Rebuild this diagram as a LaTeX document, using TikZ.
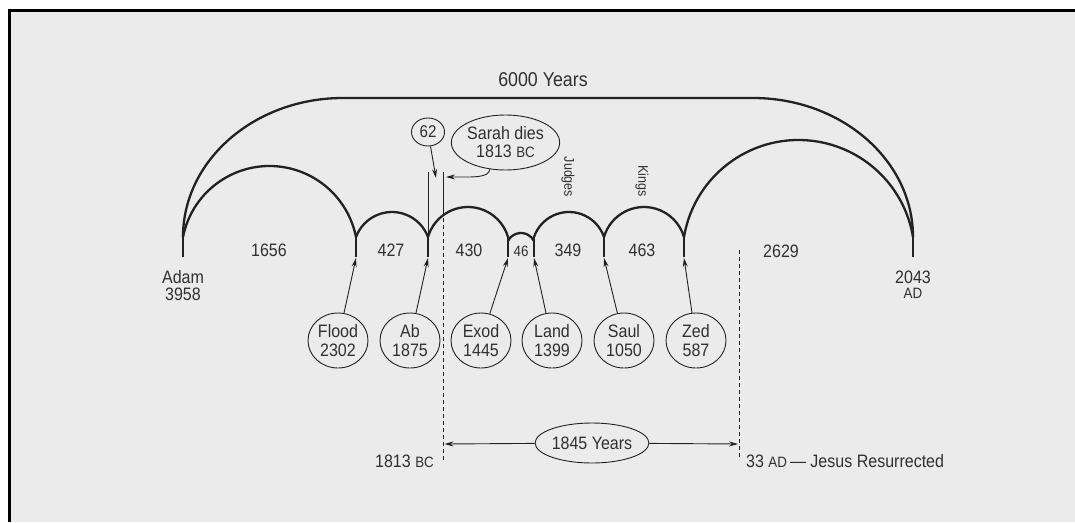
\documentclass[tikz,border=0pt]{standalone}
\usepackage{fontspec}
\setmainfont{Liberation Sans}[FakeStretch=0.89]
\usetikzlibrary{arrows.meta,shapes.geometric}
\definecolor{bg}{HTML}{EBEBEB}
\definecolor{ink}{HTML}{222222}
\definecolor{txt}{HTML}{303030}
\newcommand{\smcp}{\fontsize{15}{15}\selectfont}
\begin{document}
\begin{tikzpicture}[x=1pt,y=-1pt,
  big/.style={line width=2.3pt, draw=ink},
  tick/.style={line width=2.8pt, draw=ink},
  thin/.style={line width=0.9pt, draw=ink},
  dsh/.style={line width=0.9pt, draw=ink, dash pattern=on 4pt off 3pt},
  arr/.style={thin, -{Stealth[length=9pt,width=5pt]}},
  lbl/.style={font=\fontsize{18}{19}\selectfont, text=txt, inner sep=0pt},
  oval/.style={ellipse, draw=ink, line width=0.9pt, inner sep=0pt, align=center,
    font=\fontsize{18}{19}\selectfont, text=txt, minimum width=60pt, minimum height=55pt}]
\useasboundingbox (0,0) rectangle (1075,522);
\fill[white] (0,0) rectangle (1075,522);
\fill[bg] (8,9) rectangle (1075,522);
\draw[line width=3pt, black] (9.5,522) -- (9.5,10.5) -- (1075,10.5);

% junction coordinates
\coordinate (j0) at (183,237);
\coordinate (j1) at (356,237);
\coordinate (j2) at (428,237);
\coordinate (j3) at (508,237);
\coordinate (j3b) at (508,241);
\coordinate (j4) at (534,237);
\coordinate (j5) at (604,237);
\coordinate (j6) at (684,237);
\coordinate (j7) at (913,237);

% 6000 years arc
\draw[big] (j0) arc[start angle=180,end angle=270,x radius=160,y radius=139]
  -- (753,98) arc[start angle=270,end angle=360,x radius=160,y radius=139];

% segment arcs
\draw[big] (j0) arc[start angle=191.24,end angle=348.76,radius=88.19];
\draw[big] (j1) arc[start angle=200.45,end angle=339.55,radius=38.42];
\draw[big] (j2) arc[start angle=196.26,end angle=343.74,radius=41.67];
\draw[big] (j3b) arc[start angle=206.78,end angle=333.22,radius=14.56];
\draw[big] (j4) arc[start angle=198.92,end angle=341.08,radius=37];
\draw[big] (j5) arc[start angle=196.26,end angle=343.74,radius=41.67];
\draw[big] (j6) arc[start angle=189.46,end angle=350.54,radius=116.08];

% ticks
\foreach \x in {183,356,428,508,534,604,684,913}
  \draw[tick] (\x,257) -- (\x,236);

% 62 / Sarah markers
\coordinate (m1) at (428,172);
\coordinate (m2) at (443.5,172);
\coordinate (m2b) at (443.5,214);
\coordinate (m2c) at (443.5,218);
\coordinate (m2d) at (443.5,460);
\draw[thin] (m1) -- (j2);
\draw[thin] (m2) -- (m2b);
\draw[dsh] (m2c) -- (m2d);
\coordinate (d33a) at (739,250);
\coordinate (d33b) at (739,460);
\draw[dsh] (d33a) -- (d33b);

\node[ellipse, draw=ink, line width=0.9pt, inner sep=0pt, minimum width=33pt, minimum height=28pt,
  font=\fontsize{17}{17}\selectfont, text=txt] (n62) at (428,132) {62};
\node[ellipse, draw=ink, line width=0.9pt, inner sep=0pt, minimum width=105pt, minimum height=55pt,
  align=center, font=\fontsize{18}{18}\selectfont, text=txt] (sarah) at (505.5,142.5) {Sarah dies\\1813 {\smcp BC}};
\coordinate (g62) at (436,178);
\coordinate (g1813) at (446,177);
\draw[arr] (n62) -- (g62);
\draw[arr] (sarah.240) .. controls (488,178) and (475,177) .. (g1813);

% labels
\node[lbl, font=\fontsize{20}{20}\selectfont, anchor=base] (t6000) at (543,86) {6000 Years};
\node[lbl, anchor=base] (l1656) at (269,256) {1656};
\node[lbl, anchor=base] (l427) at (391,256) {427};
\node[lbl, anchor=base] (l430) at (469,256) {430};
\node[lbl, font=\fontsize{15}{15}\selectfont, anchor=base] (l46) at (521,256) {46};
\node[lbl, anchor=base] (l349) at (568,256) {349};
\node[lbl, anchor=base] (l463) at (642,256) {463};
\node[lbl, anchor=base] (l2629) at (781,257) {2629};
\node[lbl, anchor=base] (adam) at (183,283) {Adam};
\node[lbl, anchor=base] (y3958) at (183,300) {3958};
\node[lbl, anchor=base] (y2043) at (913,283) {2043};
\node[lbl, font=\smcp, anchor=base] (ad) at (913,298) {AD};
\node[lbl, font=\fontsize{14}{14}\selectfont, rotate=-90] (judges) at (568,177) {Judges};
\node[lbl, font=\fontsize{14}{14}\selectfont, rotate=-90] (kings) at (642,181) {Kings};

% event ovals
\node[oval] (flood) at (338,340.5) {Flood\\2302};
\node[oval] (ab) at (410,340.5) {Ab\\1875};
\node[oval] (exod) at (481,340.5) {Exod\\1445};
\node[oval] (land) at (552,340.5) {Land\\1399};
\node[oval] (saul) at (624,340.5) {Saul\\1050};
\node[oval] (zed) at (696,340.5) {Zed\\587};
\coordinate (a1) at (356,258);
\coordinate (a2) at (428,258);
\coordinate (a3) at (508,258);
\coordinate (a4) at (534,258);
\coordinate (a5) at (604,258);
\coordinate (a6) at (684,258);
\draw[arr] (flood) -- (a1);
\draw[arr] (ab) -- (a2);
\draw[arr] (exod) -- (a3);
\draw[arr] (land) -- (a4);
\draw[arr] (saul) -- (a5);
\draw[arr] (zed) -- (a6);

% 1845 years
\node[ellipse, draw=ink, line width=0.9pt, inner sep=0pt, minimum width=90pt, minimum height=40pt,
  font=\fontsize{18}{18}\selectfont, text=txt] (y1845) at (592,443) {1845 Years};
\coordinate (b1) at (444.5,444);
\coordinate (b2) at (738,444);
\draw[arr] (y1845) -- (b1);
\draw[arr] (y1845) -- (b2);
\node[lbl, anchor=base east] (bc1813) at (434,467) {1813 {\smcp BC}};
\node[lbl, anchor=base west] (ad33) at (746,467) {33 {\smcp AD}\,— Jesus Resurrected};
\end{tikzpicture}
\end{document}
